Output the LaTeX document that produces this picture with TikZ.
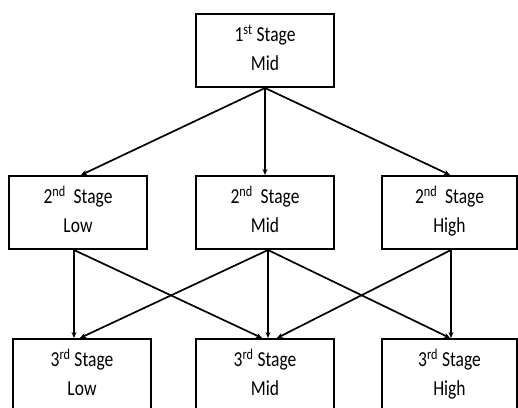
\documentclass[tikz,border=0pt]{standalone}
\usepackage{fontspec}
\usepackage{graphicx}
\setmainfont{Carlito}
\usetikzlibrary{arrows.meta}
\newcommand{\tall}[1]{\strut\raisebox{0pt}{\scalebox{1}[1.22]{#1}}}
\begin{document}
\begin{tikzpicture}[x=1pt,y=-1pt,
  stagebox/.style={draw=black, line width=2pt, fill=white, minimum width=138pt, minimum height=73pt, inner sep=0pt, align=center, font=\fontsize{17.5}{28.5}\selectfont},
  rbox/.style={stagebox, minimum width=135pt},
  arr/.style={line width=1.7pt, -{Stealth[length=6pt,width=5pt]}}]
\useasboundingbox (0,0) rectangle (518,407);
\clip (0,0) rectangle (518,407);
\node[stagebox] (s1) at (265,50.5) {\tall{1\textsuperscript{st} Stage}\\\tall{Mid}};
\node[stagebox] (s2l) at (78,212.5) {\tall{2\textsuperscript{nd}\hspace{0.45em}Stage}\\\tall{Low}};
\node[stagebox] (s2m) at (265,212.5) {\tall{2\textsuperscript{nd}\hspace{0.45em}Stage}\\\tall{Mid}};
\node[rbox] (s2r) at (449.5,212.5) {\tall{2\textsuperscript{nd}\hspace{0.45em}Stage}\\\tall{High}};
\node[stagebox] (s3l) at (82,375.5) {\tall{3\textsuperscript{rd} Stage}\\\tall{Low}};
\node[stagebox] (s3m) at (265,375.5) {\tall{3\textsuperscript{rd} Stage}\\\tall{Mid}};
\node[rbox] (s3r) at (449.5,375.5) {\tall{3\textsuperscript{rd} Stage}\\\tall{High}};
\draw[arr] (s1.south) -- ([xshift=3pt]s2l.north);
\draw[arr] (s1.south) -- (s2m.north);
\draw[arr] (s1.south) -- ([xshift=0.5pt]s2r.north);
\draw[arr] ([xshift=-4pt]s2l.south) -- ([xshift=-8pt]s3l.north);
\draw[arr] ([xshift=-4pt]s2l.south) -- ([xshift=-3pt]s3m.north);
\draw[arr] ([xshift=3pt]s2m.south) -- ([xshift=-2pt]s3l.north);
\draw[arr] ([xshift=3pt]s2m.south) -- ([xshift=3pt]s3m.north);
\draw[arr] ([xshift=3pt]s2m.south) -- ([xshift=0.5pt]s3r.north);
\draw[arr] ([xshift=1.5pt]s2r.south) -- ([xshift=12pt]s3m.north);
\draw[arr] ([xshift=1.5pt]s2r.south) -- ([xshift=1.5pt]s3r.north);
\end{tikzpicture}
\end{document}
